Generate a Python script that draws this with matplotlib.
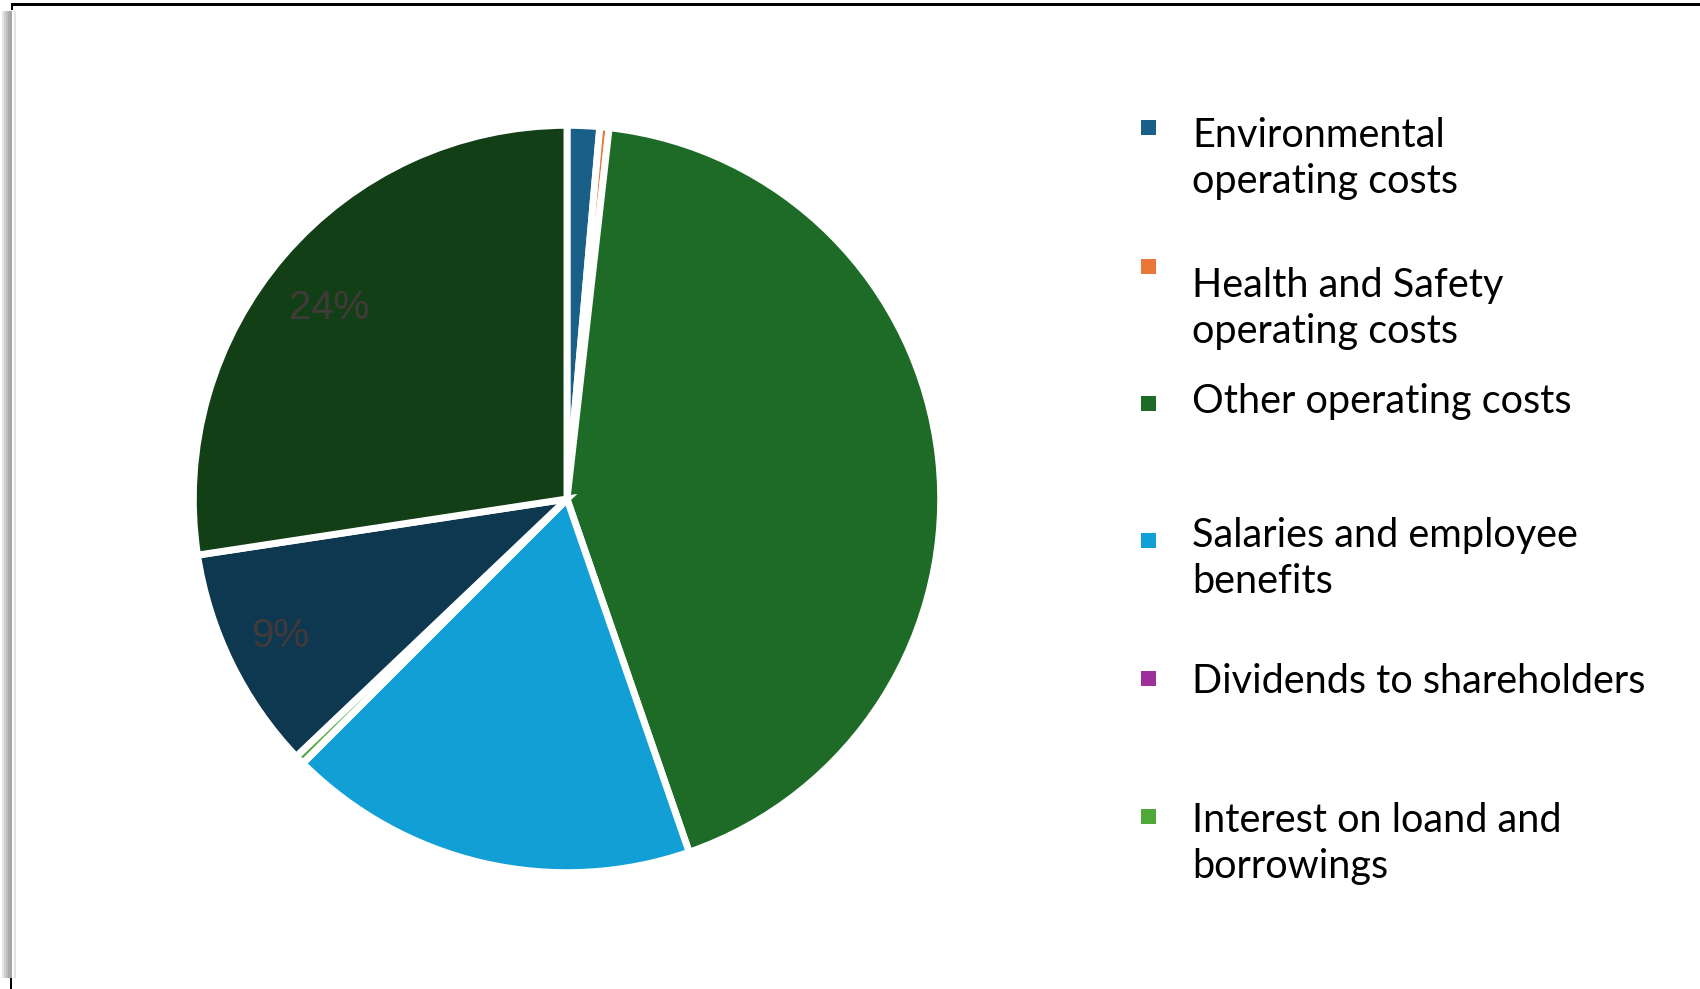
"""Operating cost breakdown pie chart with side legend."""

import numpy as np
import matplotlib
matplotlib.use('Agg')
import matplotlib.pyplot as plt
from matplotlib.patches import Rectangle

plt.rcParams['font.family'] = ['Lato', 'DejaVu Sans']

# slice data (clockwise from 12 o'clock)
slice_values = [1.4, 0.4, 42.9, 17.8, 0.0, 0.4, 9.7, 27.4]
slice_colors = ['#1a5f87', '#e9773a', '#1e6b27', '#129fd6',
                '#9c2f9a', '#4ea83a', '#0e3850', '#133f17']
slice_texts = ['', '', '', '', '', '', '9%', '24%']

# legend entries (first six slices)
legend_labels = [
    ['Environmental', 'operating costs'],
    ['Health and Safety', 'operating costs'],
    ['Other operating costs'],
    ['Salaries and employee', 'benefits'],
    ['Dividends to shareholders'],
    ['Interest on loand and', 'borrowings'],
]

W, H = 1700, 989
fig = plt.figure(figsize=(17, 9.89), dpi=100)
fig.patch.set_facecolor('white')

# page frame: black top line, grey shadow on the left
fig.add_artist(Rectangle((11 / W, 1 - 6 / H), 1, 3 / H, transform=fig.transFigure,
                         facecolor='black', edgecolor='none'))
fig.add_artist(Rectangle((11 / W, 1 - 10 / H), 2 / W, 7 / H, transform=fig.transFigure,
                         facecolor='black', edgecolor='none'))
for i, c in enumerate(['#e4e4e4', '#d0d0d0', '#bdbdbd', '#adadad', '#a5a5a5']):
    fig.add_artist(Rectangle(((2 + 2 * i) / W, 11 / H), 2 / W, 1 - 22 / H,
                             transform=fig.transFigure, facecolor=c, edgecolor='none'))
fig.add_artist(Rectangle((14 / W, 11 / H), 2 / W, 1 - 22 / H, transform=fig.transFigure,
                         facecolor='#e2e2e2', edgecolor='none'))
fig.add_artist(Rectangle((10 / W, 0), 2 / W, 11 / H, transform=fig.transFigure,
                         facecolor='black', edgecolor='none'))

# pie axes: centre (567, 499) px, radius 370 px
cx, cy, r = 567, 499, 370
ax = fig.add_axes([(cx - r) / W, (H - cy - r) / H, 2 * r / W, 2 * r / H])
wedges, texts = ax.pie(slice_values, colors=slice_colors, labels=slice_texts,
                       startangle=90, counterclock=False, radius=1.01,
                       labeldistance=0.85,
                       wedgeprops=dict(edgecolor='white', linewidth=5),
                       textprops=dict(fontsize=29, color='#423a3a',
                                      family='Liberation Sans'))

# nudge the percentage labels a little (angle offset in degrees, radius)
label_tweak = {6: (-0.5, 0.86), 7: (2.0, 0.825)}
for i, t in enumerate(texts):
    t.set_ha('center')
    t.set_va('center')
    if i in label_tweak:
        w = wedges[i]
        dth, rad = label_tweak[i]
        th = np.deg2rad((w.theta1 + w.theta2) / 2 + dth)
        t.set_position((rad * np.cos(th), rad * np.sin(th)))
ax.set_xlim(-1, 1)
ax.set_ylim(-1, 1)
ax.set_aspect('auto')
ax.axis('off')

# legend, laid out by hand
marker_y = [127, 266, 403, 540, 678, 816]
text_base = [147, 297, 413, 547, 693, 832]
line_gap = 46
for lines, col, my, ty in zip(legend_labels, slice_colors, marker_y, text_base):
    fig.add_artist(Rectangle((1141 / W, 1 - (my + 8) / H), 15 / W, 15 / H,
                             transform=fig.transFigure, facecolor=col, edgecolor='none'))
    for k, line in enumerate(lines):
        fig.text(1192 / W, 1 - (ty + k * line_gap) / H, line, fontsize=28.5,
                 color='black', ha='left', va='baseline')

plt.savefig('out.png', dpi=100, facecolor='white')
